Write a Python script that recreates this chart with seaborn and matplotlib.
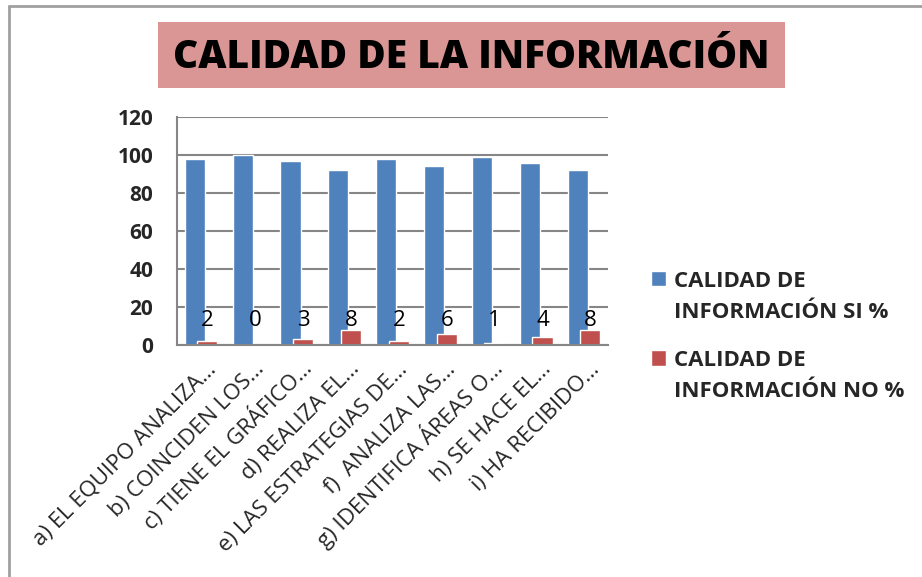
import pandas as pd
import matplotlib.pyplot as plt
import matplotlib.transforms as mtransforms
import seaborn as sns
from matplotlib.patches import Rectangle
from matplotlib.lines import Line2D

# datos del gráfico
preguntas = [
    'a) EL EQUIPO ANALIZA…',
    'b) COINCIDEN LOS…',
    'c) TIENE EL GRÁFICO…',
    'd) REALIZA EL…',
    'e) LAS ESTRATEGIAS DE…',
    'f)  ANALIZA LAS…',
    'g) IDENTIFICA ÁREAS O…',
    'h) SE HACE EL…',
    'i) HA RECIBIDO…',
]
valores_si = [98, 100, 97, 92, 98, 94, 99, 96, 92]
valores_no = [2, 0, 3, 8, 2, 6, 1, 4, 8]
serie_si = 'CALIDAD DE\nINFORMACIÓN SI %'
serie_no = 'CALIDAD DE\nINFORMACIÓN NO %'

df = pd.DataFrame({
    'Pregunta': preguntas * 2,
    'Valor': valores_si + valores_no,
    'Serie': [serie_si] * len(preguntas) + [serie_no] * len(preguntas),
})

sns.set_theme(style='white')
plt.rcParams['font.family'] = ['Open Sans', 'DejaVu Sans']

fig = plt.figure(figsize=(9.22, 5.77), dpi=100)
ax = fig.add_axes([0.192, 0.4021, 0.4675, 0.3951])

sns.barplot(data=df, x='Pregunta', y='Valor', hue='Serie',
            palette=['#4F81BD', '#C0504D'], width=0.84, gap=0,
            saturation=1, ax=ax, legend=True)

# las barras se solapan un poco, como en el original
desplaz = [0.08, -0.08]
for cont, d in zip(ax.containers, desplaz):
    for p in cont:
        p.set_x(p.get_x() + d)

# etiquetas de la serie NO a altura fija
for p, v in zip(ax.containers[1], valores_no):
    ax.text(p.get_x() + p.get_width() / 2, 13, str(v), ha='center', va='center',
            fontsize=16, color='black')

ax.set_ylim(0, 120)
ax.set_yticks(range(0, 121, 20))
ax.yaxis.grid(True, color='#868686', linewidth=1.5)
ax.set_axisbelow(True)
for s in ['top', 'right']:
    ax.spines[s].set_visible(False)
for s in ['left', 'bottom']:
    ax.spines[s].set_color('#868686')
    ax.spines[s].set_linewidth(1.5)
ax.set_xlabel('')
ax.set_ylabel('')
ax.tick_params(axis='y', labelsize=15, pad=17, length=0)
for t in ax.get_yticklabels():
    t.set_fontweight('bold')
ax.set_xticks(range(len(preguntas)))
ax.set_xticklabels(preguntas, rotation=45, ha='right', va='baseline',
                   rotation_mode='anchor', fontsize=16)
ax.tick_params(axis='x', length=0, pad=18)
desp = mtransforms.ScaledTranslation(0.16, 0, fig.dpi_scale_trans)
for t in ax.get_xticklabels():
    t.set_transform(t.get_transform() + desp)

leg = ax.legend(loc='upper left', bbox_to_anchor=(651 / 922, 1 - 271 / 577),
                bbox_transform=fig.transFigure, frameon=False,
                prop={'weight': 'bold', 'size': 16}, handlelength=0.68,
                handleheight=0.68, handletextpad=0.36, labelspacing=1.25,
                borderpad=0, borderaxespad=0)
for t in leg.get_texts():
    t.set_linespacing(1.6)
for col in leg._legend_handle_box.get_children():
    for hp in col.get_children():
        hp.align = 'top'

# cuadro del título
fig.patches.append(Rectangle((158 / 922, 1 - 88 / 577), 627 / 922, 66 / 577,
                             transform=fig.transFigure, facecolor='#D99694',
                             edgecolor='none', zorder=0))
fig.text(471 / 922, 1 - 57 / 577, 'CALIDAD DE LA INFORMACIÓN', ha='center',
         va='center', fontsize=28, fontweight='heavy', color='black')

# borde del área del gráfico
fig.lines.append(Line2D([9 / 922, 9 / 922], [0, 1 - 6 / 577], transform=fig.transFigure,
                        color='#A0A0A0', linewidth=2))
fig.lines.append(Line2D([9 / 922, 1], [1 - 6 / 577, 1 - 6 / 577], transform=fig.transFigure,
                        color='#A0A0A0', linewidth=2))

fig.savefig('out.png', dpi=100)
